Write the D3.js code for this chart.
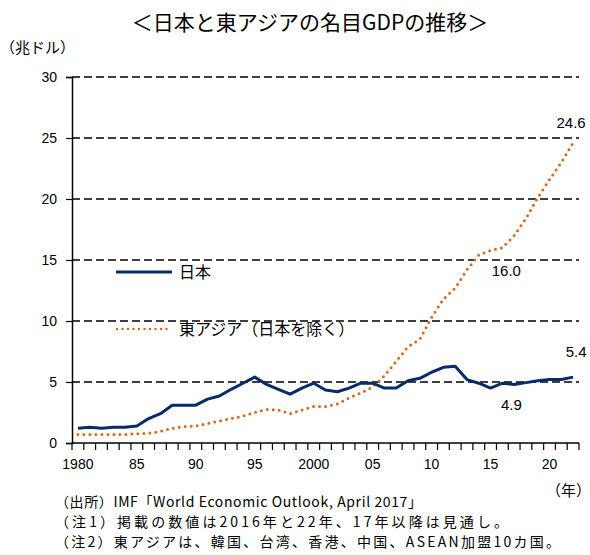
<!DOCTYPE html>
<html><head><meta charset="utf-8">
<script src="https://cdn.jsdelivr.net/npm/d3@7"></script>
<style>body{margin:0;background:#fff}svg{display:block}</style>
</head><body>
<script>
const years = d3.range(1980, 2023);
const japan = [1.2,1.3,1.2,1.3,1.3,1.4,2.0,2.4,3.1,3.1,3.1,3.6,3.85,4.4,4.9,5.4,4.8,4.4,4.0,4.5,4.9,4.35,4.2,4.5,4.9,4.9,4.5,4.5,5.1,5.3,5.8,6.2,6.3,5.2,4.9,4.5,4.9,4.8,4.95,5.1,5.2,5.2,5.4];
const eastAsia = [0.7,0.7,0.7,0.7,0.7,0.75,0.8,0.95,1.2,1.35,1.4,1.6,1.8,2.0,2.2,2.5,2.75,2.7,2.4,2.7,3.0,3.0,3.2,3.7,4.1,4.6,5.5,6.7,7.9,8.5,10.3,11.8,12.7,14.2,15.4,15.8,16.0,17.0,18.4,20.1,21.6,23.0,24.6];
const yTicks = [0,5,10,15,20,25,30];
const xLabelYears = [1980,1985,1990,1995,2000,2005,2010,2015,2020];
const xLabels = ["1980","85","90","95","2000","05","10","15","20"];
const seriesNames = ["日本","東アジア（日本を除く）"];
const annotations = [
  {year:2022, value:24.6, text:"24.6", dx:-2, dy:-15, anchor:"middle"},
  {year:2016, value:16.0, text:"16.0", dx:4, dy:28, anchor:"middle"},
  {year:2022, value:5.4, text:"5.4", dx:3, dy:-20, anchor:"middle"},
  {year:2016, value:4.9, text:"4.9", dx:9, dy:27, anchor:"middle"}
];
const notes = ["（出所）IMF「World Economic Outlook, April 2017」",
  "（注1）掲載の数値は2016年と22年、17年以降は見通し。",
  "（注2）東アジアは、韓国、台湾、香港、中国、ASEAN加盟10カ国。"];
const japanColor = "#0a2a6b", asiaColor = "#d9691f";
const W = 590, H = 555;
const svg = d3.select("body").append("svg").attr("width", W).attr("height", H);
const numFont = "'Liberation Sans', Arial, sans-serif";
const jpFont = "'Noto Sans CJK JP', sans-serif";

const x = d3.scaleBand().domain(years).range([72, 579]);
const y = d3.scaleLinear().domain([0, 30]).range([443, 77]);
const cx = d => x(d) + x.bandwidth() / 2;

// title
svg.append("text").attr("x", 310).attr("y", 30).attr("text-anchor", "middle")
  .attr("font-family", jpFont).attr("font-size", 21).text("＜日本と東アジアの名目GDPの推移＞");
svg.append("text").attr("x", 0).attr("y", 53)
  .attr("font-family", jpFont).attr("font-size", 15).text("（兆ドル）");

// gridlines
svg.append("g").selectAll("line").data(yTicks.filter(t => t > 0)).join("line")
  .attr("x1", 72).attr("x2", 579).attr("y1", d => y(d)).attr("y2", d => y(d))
  .attr("stroke", "#000").attr("stroke-width", 1.5).attr("stroke-dasharray", "8,4");

// y axis
const yAxis = d3.axisLeft(y).tickValues(yTicks).tickSize(6).tickPadding(9);
const gy = svg.append("g").attr("transform", "translate(72,0)").call(yAxis);
gy.select(".domain").attr("stroke-width", 1.5);
gy.selectAll(".tick line").attr("stroke-width", 1.2);
gy.selectAll("text").attr("font-family", numFont).attr("font-size", 14).attr("fill", "#000");

// x axis
svg.append("line").attr("x1", 72).attr("x2", 579).attr("y1", 443).attr("y2", 443)
  .attr("stroke", "#000").attr("stroke-width", 1.5);
const bounds = years.map(d => x(d)).concat([x(2022) + x.bandwidth()]);
svg.append("g").selectAll("line").data(bounds).join("line")
  .attr("x1", d => d).attr("x2", d => d).attr("y1", 443).attr("y2", 450)
  .attr("stroke", "#000").attr("stroke-width", 1.2);
svg.append("g").selectAll("text").data(xLabelYears).join("text")
  .attr("x", d => cx(d)).attr("y", 469).attr("text-anchor", "middle")
  .attr("font-family", numFont).attr("font-size", 14).text((d, i) => xLabels[i]);
svg.append("text").attr("x", 591).attr("y", 496).attr("text-anchor", "end")
  .attr("font-family", jpFont).attr("font-size", 15).text("（年）");

// lines
const line = vals => d3.line().x((d, i) => cx(years[i])).y(d => y(d))(vals);
svg.append("path").attr("d", line(eastAsia)).attr("fill", "none")
  .attr("stroke", asiaColor).attr("stroke-width", 3).attr("stroke-linecap", "round")
  .attr("stroke-dasharray", "0,6");
svg.append("path").attr("d", line(japan)).attr("fill", "none")
  .attr("stroke", japanColor).attr("stroke-width", 3).attr("stroke-linejoin", "round");

// legend
const leg = svg.append("g");
leg.append("line").attr("x1", 116).attr("x2", 172).attr("y1", 272).attr("y2", 272)
  .attr("stroke", japanColor).attr("stroke-width", 3);
leg.append("text").attr("x", 179).attr("y", 278).attr("font-family", jpFont).attr("font-size", 16).text(seriesNames[0]);
leg.append("line").attr("x1", 117).attr("x2", 172).attr("y1", 329).attr("y2", 329)
  .attr("stroke", asiaColor).attr("stroke-width", 2.5).attr("stroke-linecap", "round").attr("stroke-dasharray", "0,5.5");
leg.append("text").attr("x", 179).attr("y", 335).attr("font-family", jpFont).attr("font-size", 16).text(seriesNames[1]);

// annotations
svg.append("g").selectAll("text").data(annotations).join("text")
  .attr("x", d => cx(d.year) + d.dx).attr("y", d => y(d.value) + d.dy)
  .attr("text-anchor", d => d.anchor).attr("font-family", numFont).attr("font-size", 15).text(d => d.text);

// footnotes
const noteLens = [367, 453, 505];
svg.append("g").selectAll("text").data(notes).join("text")
  .attr("x", 55).attr("y", (d, i) => 507 + i * 20)
  .attr("textLength", (d, i) => noteLens[i]).attr("lengthAdjust", "spacing")
  .attr("font-family", jpFont).attr("font-size", 14).text(d => d);
</script>
</body></html>
